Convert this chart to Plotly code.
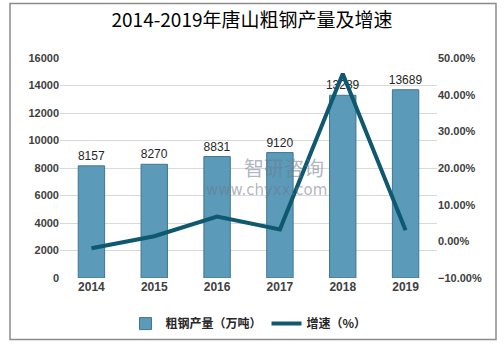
import plotly.graph_objects as go

years = ["2014", "2015", "2016", "2017", "2018", "2019"]
output = [8157, 8270, 8831, 9120, 13289, 13689]
growth = [-1.9, 1.39, 6.78, 3.27, 45.71, 3.01]

W, H = 504, 350
L, R, T, B = 60, 67, 58, 70
pw, ph = W - L - R, H - T - B

def px(x):
    return (x - L) / pw

def py(y):
    return (H - B - y) / ph

fig = go.Figure()
fig.add_trace(go.Bar(
    x=years, y=output, name="粗钢产量（万吨）",
    marker=dict(color="#5b9bb9", line=dict(color="#3f7690", width=1)),
    width=0.42,
    text=[str(v) for v in output], textposition="outside", constraintext="none",
    textfont=dict(family="Liberation Sans, Noto Sans CJK SC", size=12, color="#262626"),
    cliponaxis=False,
))
fig.add_trace(go.Scatter(
    x=years, y=growth, name="增速（%）", yaxis="y2", mode="lines",
    line=dict(color="#0e5870", width=4),
))

fig.update_layout(
    width=W, height=H,
    margin=dict(l=L, r=R, t=T, b=B),
    paper_bgcolor="white", plot_bgcolor="white",
    title=dict(text="2014-2019年唐山粗钢产量及增速", x=0.5, xanchor="center",
               y=1 - 20 / H, yanchor="middle",
               font=dict(family="Noto Sans CJK SC", size=19, color="#000000")),
    xaxis=dict(showgrid=False, showline=False, ticks="",
               tickfont=dict(family="Liberation Sans", size=12, color="#404040", weight="bold")),
    yaxis=dict(range=[0, 16000], dtick=2000, tickformat="d", showgrid=True, gridcolor="#d9d9d9",
               gridwidth=1, zeroline=False, showline=False, ticks="",
               tickfont=dict(family="Liberation Sans", size=11, color="#404040", weight="bold")),
    yaxis2=dict(range=[-10, 50], dtick=10, overlaying="y", side="right",
                showgrid=False, zeroline=False, showline=False,
                tickformat=".2f", ticksuffix="%",
                tickfont=dict(family="Liberation Sans", size=11, color="#404040", weight="bold")),
    showlegend=True,
    legend=dict(orientation="h", x=0.5, xanchor="center", y=py(326), yanchor="middle",
                font=dict(family="Noto Sans CJK SC", size=12, color="#262626", weight="bold"),
                itemwidth=30, tracegroupgap=0, bgcolor="rgba(0,0,0,0)"),
    bargap=0.58,
)

# watermark
fig.add_annotation(text="智研咨询", x=px(284), y=py(168), xref="paper", yref="paper",
                   showarrow=False, font=dict(family="Noto Sans CJK SC", size=20, color="rgba(110,120,135,0.55)"))
fig.add_annotation(text="www.chyxx.com", x=px(266), y=py(191), xref="paper", yref="paper",
                   showarrow=False, font=dict(family="DejaVu Sans", size=15, color="rgba(110,120,135,0.55)"))

# outer border
fig.add_shape(type="rect", xref="paper", yref="paper",
              x0=px(10), x1=px(496), y0=py(342), y1=py(3),
              line=dict(color="#8c8c8c", width=1.5), fillcolor="rgba(0,0,0,0)", layer="below")

fig.write_html("out.html")
